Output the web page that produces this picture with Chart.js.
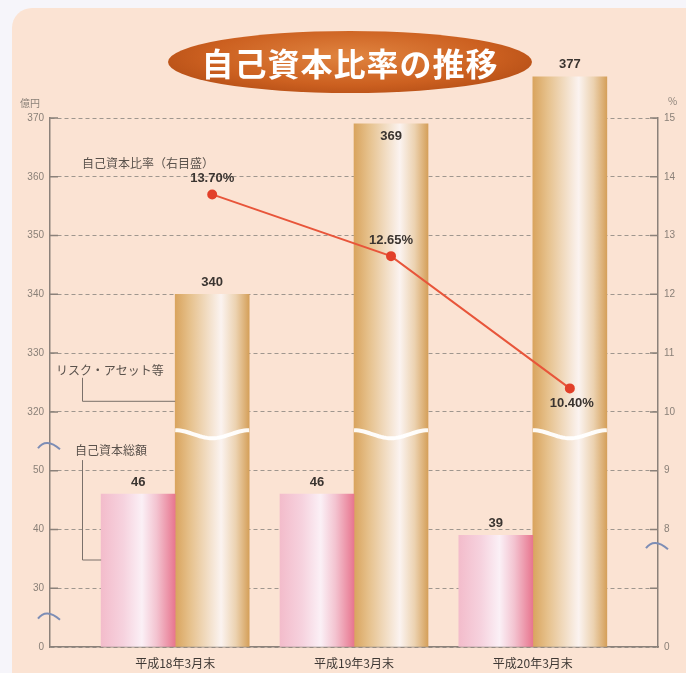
<!DOCTYPE html>
<html lang="ja">
<head>
<meta charset="utf-8">
<title>自己資本比率の推移</title>
<script src="https://cdn.jsdelivr.net/npm/chart.js@4.4.1/dist/chart.umd.min.js"></script>
<style>
  html, body { margin: 0; padding: 0; background: #f6f5fa; }
  #wrap { position: relative; width: 686px; height: 673px; overflow: hidden; }
  #card { position: absolute; left: 12px; top: 8px; right: -30px; bottom: -30px; background: #fbe3d3; border-radius: 20px; }
  #chart { position: absolute; left: 0; top: 0; }
  #title {
    position: absolute; left: 168px; top: 31px; width: 364px; height: 62px; border-radius: 50%;
    background: radial-gradient(ellipse at 50% 40%, #e08440 0%, #cc6020 55%, #a4420f 100%);
    color: #fff; font: bold 32px "Noto Sans CJK JP", sans-serif; letter-spacing: 1px;
    display: flex; align-items: center; justify-content: center;
  }
</style>
</head>
<body>
<div id="wrap">
  <div id="card"></div>
  <canvas id="chart" width="686" height="673"></canvas>
  <div id="title">自己資本比率の推移</div>
</div>
<script>
// データ
const categories = ['平成18年3月末', '平成19年3月末', '平成20年3月末'];
const capitalTotal = [46, 46, 39];            // 自己資本総額（億円）
const riskAssets = [340, 369, 377];           // リスク・アセット等（億円）
const capitalRatio = [13.70, 12.65, 10.40];   // 自己資本比率（%）
const leftTickLabels = ['0', '30', '40', '50', '320', '330', '340', '350', '360', '370'];
const rightTickLabels = ['0', '', '8', '9', '10', '11', '12', '13', '14', '15'];

const BAR_W = 74;
const X_MIN = -0.7, X_MAX = 2.7;
const HALF = 0.207; // 棒の半幅（カテゴリ単位）

// 左軸は 0 / 30〜50 / 320〜370 の省略目盛
function leftPos(v) {
    if (v >= 320) return 4 + (v - 320) / 10;
    if (v >= 30) return 1 + (v - 30) / 10;
    return v / 30;
}
// 右軸は 0 / 8〜15
function rightPos(v) {
    if (v >= 8) return 2 + (v - 8);
    return v / 8;
}

const pinkStops = [[0, '#f3bccb'], [0.3, '#f6d2de'], [0.55, '#fbf0f6'], [0.75, '#f3c3d0'], [1, '#e8768f']];
const goldStops = [[0, '#d9a45e'], [0.2, '#e6c18c'], [0.62, '#fbf3f0'], [0.82, '#ecd2b0'], [1, '#d5a05a']];

function barGradient(ctx, stops, axisId) {
    const chart = ctx.chart;
    const xs = chart.scales[axisId];
    if (!xs || !chart.chartArea) return stops[0][1];
    const c = xs.getPixelForValue(ctx.dataIndex);
    const g = chart.ctx.createLinearGradient(c - BAR_W / 2, 0, c + BAR_W / 2, 0);
    stops.forEach(s => g.addColorStop(s[0], s[1]));
    return g;
}

const decor = {
    id: 'decor',
    beforeDatasetsDraw(chart) {
        const { ctx, chartArea } = chart;
        const y = chart.scales.y;
        ctx.save();
        ctx.strokeStyle = '#8b817a';
        ctx.lineWidth = 1.5;
        for (let i = 1; i < leftTickLabels.length; i++) {
            const py = y.getPixelForValue(i);
            ctx.beginPath();
            ctx.moveTo(chartArea.left, py); ctx.lineTo(chartArea.left + 8, py);
            ctx.moveTo(chartArea.right - 8, py); ctx.lineTo(chartArea.right, py);
            ctx.stroke();
        }
        // 単位
        ctx.fillStyle = '#8a8078';
        ctx.font = '10px "Noto Sans CJK JP", sans-serif';
        ctx.textAlign = 'left';
        ctx.textBaseline = 'middle';
        ctx.fillText('億円', 20, chartArea.top - 15);
        ctx.fillText('%', 668, chartArea.top - 17);
        ctx.restore();
    },
    afterDatasetsDraw(chart) {
        const { ctx, chartArea } = chart;
        const y = chart.scales.y;
        const pink = chart.getDatasetMeta(0).data;
        const gold = chart.getDatasetMeta(1).data;
        ctx.save();

        // 棒の省略波線
        const yw = y.getPixelForValue(3.62);
        ctx.strokeStyle = 'rgba(255,255,255,0.95)';
        ctx.lineWidth = 4;
        gold.forEach(el => {
            const l = el.x - el.width / 2, w = el.width;
            ctx.beginPath();
            for (let k = 0; k <= 30; k++) {
                const t = k / 30;
                const py = yw - 4 * Math.cos(2 * Math.PI * t);
                if (k === 0) ctx.moveTo(l, py); else ctx.lineTo(l + w * t, py);
            }
            ctx.stroke();
        });

        // 軸の省略記号
        ctx.strokeStyle = '#7d8db5';
        ctx.lineWidth = 2;
        const arc = (cx, cy) => {
            ctx.beginPath();
            ctx.moveTo(cx - 11, cy + 4);
            ctx.quadraticCurveTo(cx - 3, cy - 7, cx + 11, cy + 5);
            ctx.stroke();
        };
        arc(chartArea.left - 1, y.getPixelForValue(3.45));
        arc(chartArea.left - 1, y.getPixelForValue(0.55));
        arc(chartArea.right - 1, y.getPixelForValue(1.75));

        // 注記
        ctx.fillStyle = '#5a524c';
        ctx.font = '12px "Noto Sans CJK JP", sans-serif';
        ctx.textAlign = 'left';
        ctx.textBaseline = 'middle';
        ctx.fillText('自己資本比率（右目盛）', 82, y.getPixelForValue(8.23));
        ctx.fillText('リスク・アセット等', 56, y.getPixelForValue(4.7));
        ctx.fillText('自己資本総額', 75, y.getPixelForValue(3.35));

        ctx.strokeStyle = '#7a706a';
        ctx.lineWidth = 1;
        ctx.beginPath();
        ctx.moveTo(82.5, y.getPixelForValue(4.58));
        ctx.lineTo(82.5, y.getPixelForValue(4.18));
        ctx.lineTo(gold[0].x - gold[0].width / 2, y.getPixelForValue(4.18));
        ctx.moveTo(82.5, y.getPixelForValue(3.18));
        ctx.lineTo(82.5, y.getPixelForValue(1.48));
        ctx.lineTo(pink[0].x - pink[0].width / 2, y.getPixelForValue(1.48));
        ctx.stroke();

        // 数値ラベル
        ctx.fillStyle = '#3a3430';
        ctx.font = 'bold 13px "Liberation Sans", Arial, sans-serif';
        ctx.textAlign = 'center';
        [[pink, capitalTotal], [gold, riskAssets]].forEach(([els, vals]) => {
            els.forEach((el, i) => {
                let ty = el.y - 12;
                // 上端の目盛線に重なるときは棒の中へ
                if (el.y > chartArea.top && el.y - chartArea.top < 14) ty = el.y + 13;
                ctx.fillText(vals[i], el.x, ty);
            });
        });
        const pts = chart.getDatasetMeta(2).data;
        pts.forEach((p, i) => {
            const below = i === pts.length - 1;
            ctx.fillText(capitalRatio[i].toFixed(2) + '%', p.x + (below ? 2 : 0), below ? p.y + 15 : p.y - 16);
        });
        ctx.restore();
    }
};

const hiddenX = shift => ({
    type: 'linear',
    display: false,
    offset: false,
    min: X_MIN + shift,
    max: X_MAX + shift
});

new Chart(document.getElementById('chart'), {
    type: 'bar',
    data: {
        datasets: [
            {
                label: '自己資本総額',
                data: capitalTotal.map((v, i) => ({ x: i, y: leftPos(v) })),
                xAxisID: 'xp',
                backgroundColor: c => barGradient(c, pinkStops, 'xp'),
                barThickness: BAR_W,
                grouped: false,
                order: 1
            },
            {
                label: 'リスク・アセット等',
                data: riskAssets.map((v, i) => ({ x: i, y: leftPos(v) })),
                xAxisID: 'xg',
                backgroundColor: c => barGradient(c, goldStops, 'xg'),
                barThickness: BAR_W,
                grouped: false,
                clip: false,
                order: 1
            },
            {
                type: 'line',
                label: '自己資本比率（右目盛）',
                data: capitalRatio.map((v, i) => ({ x: i, y: rightPos(v) })),
                xAxisID: 'xg',
                yAxisID: 'y1',
                borderColor: '#e8553a',
                borderWidth: 2,
                pointRadius: 4,
                pointBackgroundColor: '#e2402a',
                pointBorderColor: '#e2402a',
                order: 0
            }
        ]
    },
    options: {
        responsive: false,
        animation: false,
        layout: { padding: { top: 118, left: 0, right: 0, bottom: 0 } },
        plugins: { legend: { display: false }, tooltip: { enabled: false } },
        scales: {
            x: {
                type: 'linear',
                offset: false,
                min: X_MIN,
                max: X_MAX,
                grid: { display: false, drawTicks: false, offset: false },
                border: { display: true, color: '#8b817a', width: 1.5 },
                afterBuildTicks: s => { s.ticks = categories.map((c, i) => ({ value: i })); },
                afterFit: s => { s.height = 26; },
                ticks: {
                    padding: 9,
                    color: '#3e3834',
                    font: { family: '"Noto Sans CJK JP"', size: 12 },
                    callback: v => categories[v]
                }
            },
            xp: hiddenX(HALF),
            xg: hiddenX(-HALF),
            y: {
                position: 'left',
                min: 0,
                max: 9,
                afterBuildTicks: s => { s.ticks = leftTickLabels.map((t, i) => ({ value: i })); },
                afterFit: s => { s.width = 50; },
                grid: { color: '#9f968e', lineWidth: 1, drawTicks: false },
                border: { display: true, color: '#8b817a', width: 1.5, dash: [4, 3] },
                ticks: {
                    padding: 6,
                    color: '#8a8078',
                    font: { family: '"Liberation Sans", Arial, sans-serif', size: 10 },
                    callback: v => leftTickLabels[v]
                }
            },
            y1: {
                position: 'right',
                min: 0,
                max: 9,
                afterBuildTicks: s => { s.ticks = rightTickLabels.map((t, i) => ({ value: i })); },
                afterFit: s => { s.width = 28; },
                grid: { display: false, drawTicks: false },
                border: { display: true, color: '#8b817a', width: 1.5 },
                ticks: {
                    padding: 6,
                    color: '#8a8078',
                    font: { family: '"Liberation Sans", Arial, sans-serif', size: 10 },
                    callback: v => rightTickLabels[v]
                }
            }
        }
    },
    plugins: [decor]
});
</script>
</body>
</html>
